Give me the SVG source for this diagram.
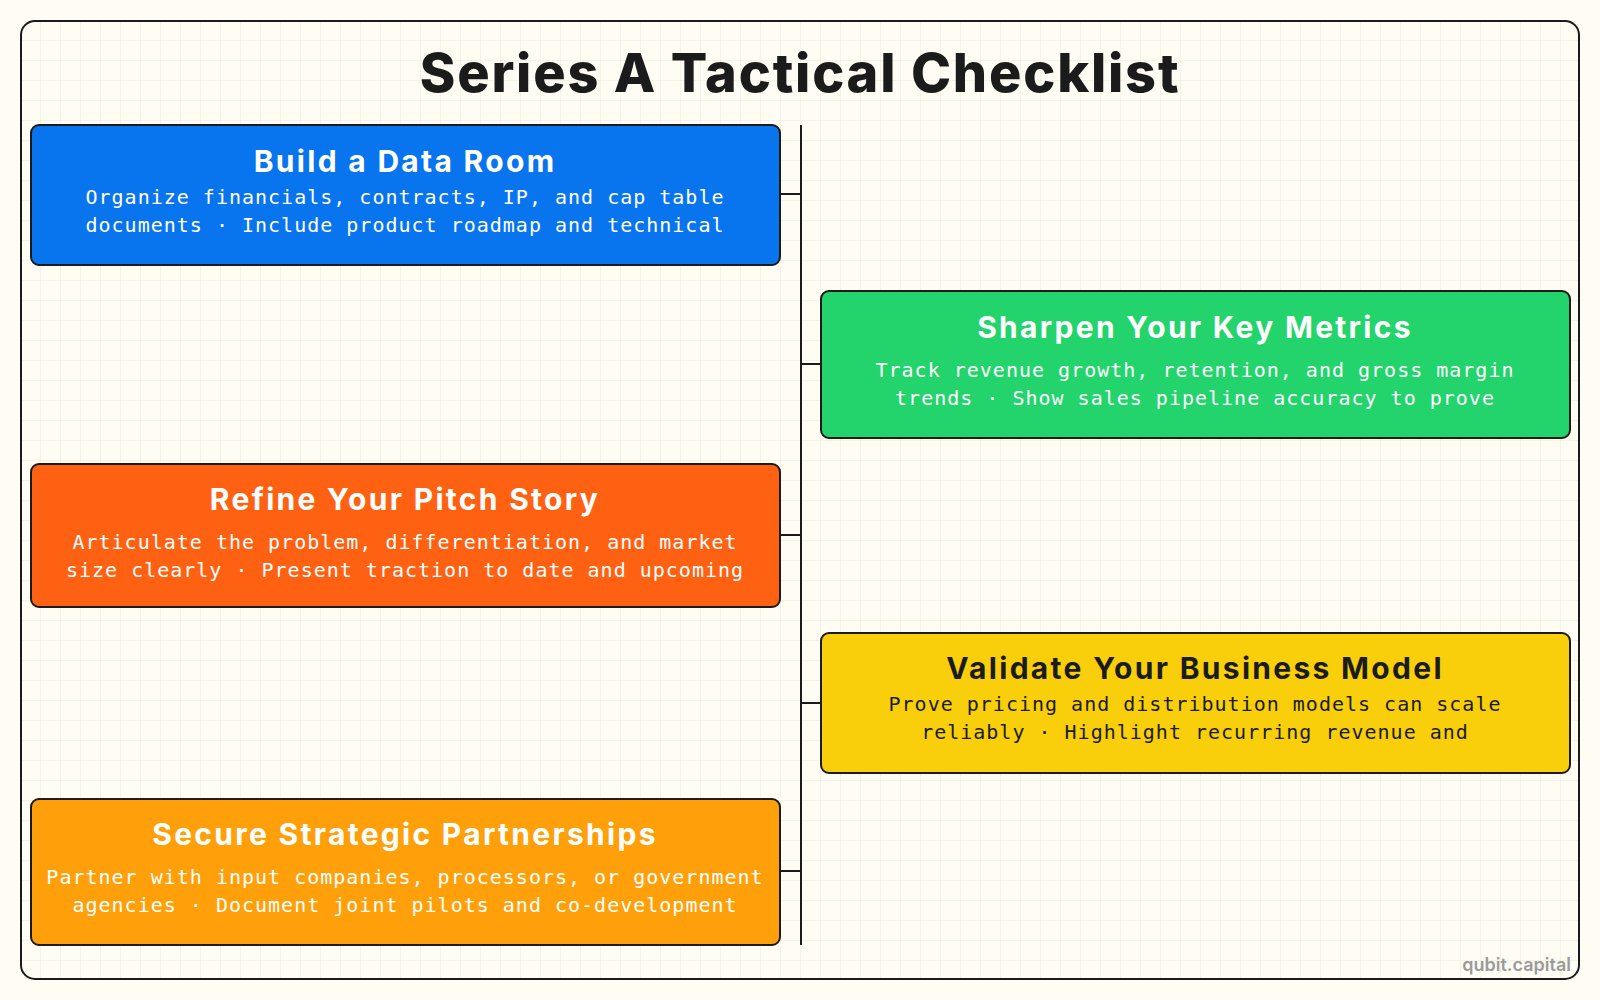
<svg xmlns="http://www.w3.org/2000/svg" width="1600" height="1000" viewBox="0 0 1600 1000">
<defs>
<pattern id="grid" width="20" height="20" patternUnits="userSpaceOnUse">
<path d="M20 0H0V20" fill="none" stroke="#ece9d8" stroke-width="1"/>
</pattern>
<style>
.box{stroke:#1b1b1b;stroke-width:2}
.h{font-family:Inter,"Open Sans",sans-serif;font-weight:700;font-size:30px;letter-spacing:2.3px;text-anchor:middle}
.d{font-family:"DejaVu Sans Mono","Liberation Mono",monospace;font-size:20px;letter-spacing:1px;text-anchor:middle}
.w{fill:#ffffff}.k{fill:#1b1b1b}
.c{stroke:#1b1b1b;stroke-width:2;fill:none}
</style>
</defs>
<rect width="1600" height="1000" fill="#fffdf3"/>
<rect x="21" y="21" width="1558" height="958" rx="14" fill="url(#grid)" stroke="#1b1b1b" stroke-width="2"/>
<text x="800" y="92" font-family="Inter,'Open Sans',sans-serif" font-weight="800" font-size="54" letter-spacing="1.8" text-anchor="middle" fill="#1b1b1b">Series A Tactical Checklist</text>
<g id="connectors">
<line class="c" x1="801" y1="125" x2="801" y2="945"/>
<line class="c" x1="780" y1="194" x2="801" y2="194"/>
<line class="c" x1="801" y1="364" x2="820" y2="364"/>
<line class="c" x1="780" y1="535" x2="801" y2="535"/>
<line class="c" x1="801" y1="703" x2="820" y2="703"/>
<line class="c" x1="780" y1="871" x2="801" y2="871"/>
</g>
<g id="n1">
<rect class="box" x="31" y="125" width="749" height="140" rx="8" fill="#0874EE"/>
<text class="h w" x="405" y="172">Build a Data Room</text>
<text class="d w" x="405" y="204">Organize financials, contracts, IP, and cap table</text>
<text class="d w" x="405" y="232">documents · Include product roadmap and technical</text>
</g>
<g id="n2">
<rect class="box" x="821" y="291" width="749" height="147" rx="8" fill="#22D46B"/>
<text class="h w" x="1195" y="338">Sharpen Your Key Metrics</text>
<text class="d w" x="1195" y="377">Track revenue growth, retention, and gross margin</text>
<text class="d w" x="1195" y="405">trends · Show sales pipeline accuracy to prove</text>
</g>
<g id="n3">
<rect class="box" x="31" y="464" width="749" height="143" rx="8" fill="#FF6112"/>
<text class="h w" x="405" y="510">Refine Your Pitch Story</text>
<text class="d w" x="405" y="549">Articulate the problem, differentiation, and market</text>
<text class="d w" x="405" y="577">size clearly · Present traction to date and upcoming</text>
</g>
<g id="n4">
<rect class="box" x="821" y="633" width="749" height="140" rx="8" fill="#F8CF0A"/>
<text class="h k" x="1195" y="679">Validate Your Business Model</text>
<text class="d k" x="1195" y="711">Prove pricing and distribution models can scale</text>
<text class="d k" x="1195" y="739">reliably · Highlight recurring revenue and</text>
</g>
<g id="n5">
<rect class="box" x="31" y="799" width="749" height="146" rx="8" fill="#FF9F0A"/>
<text class="h w" x="405" y="845">Secure Strategic Partnerships</text>
<text class="d w" x="405" y="884">Partner with input companies, processors, or government</text>
<text class="d w" x="405" y="912">agencies · Document joint pilots and co-development</text>
</g>
<text x="1571" y="971" font-family="Inter,'Open Sans',sans-serif" font-weight="600" font-size="18" text-anchor="end" fill="#9a9a9a">qubit.capital</text>
</svg>
